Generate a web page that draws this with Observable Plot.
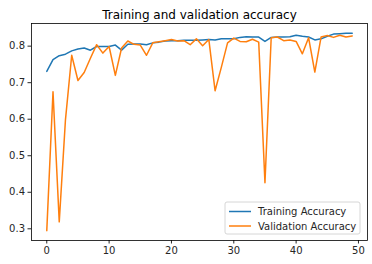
<!DOCTYPE html>
<html>
<head>
<meta charset="utf-8">
<script src="https://cdn.jsdelivr.net/npm/d3@7"></script>
<script src="https://cdn.jsdelivr.net/npm/@observablehq/plot@0.6"></script>
<style>
  html, body { margin: 0; padding: 0; background: #fff; }
  svg { font-family: "DejaVu Sans", sans-serif; }
</style>
</head>
<body>
<div id="chart"></div>
<script>
const epochs = d3.range(50);
const trainingAccuracy = [
  0.731, 0.763, 0.774, 0.778, 0.787, 0.792, 0.795, 0.789, 0.799, 0.799,
  0.799, 0.803, 0.789, 0.805, 0.806, 0.806, 0.804, 0.809, 0.811, 0.814,
  0.815, 0.815, 0.816, 0.816, 0.816, 0.817, 0.818, 0.817, 0.820, 0.820,
  0.820, 0.824, 0.826, 0.825, 0.825, 0.813, 0.824, 0.825, 0.825, 0.826,
  0.830, 0.827, 0.825, 0.817, 0.820, 0.827, 0.833, 0.834, 0.835, 0.835
];
const validationAccuracy = [
  0.295, 0.675, 0.319, 0.599, 0.775, 0.706, 0.728, 0.767, 0.804, 0.781,
  0.799, 0.720, 0.795, 0.814, 0.805, 0.803, 0.775, 0.809, 0.812, 0.815,
  0.818, 0.814, 0.815, 0.804, 0.820, 0.801, 0.818, 0.678, 0.742, 0.809,
  0.822, 0.813, 0.812, 0.819, 0.811, 0.426, 0.823, 0.825, 0.815, 0.817,
  0.813, 0.779, 0.823, 0.729, 0.825, 0.829, 0.824, 0.830, 0.825, 0.828
];
const seriesNames = ["Training Accuracy", "Validation Accuracy"];
const seriesColors = ["#1f77b4", "#ff7f0e"];
const xTicks = [0, 10, 20, 30, 40, 50];
const yTicks = [0.3, 0.4, 0.5, 0.6, 0.7, 0.8];
const titleText = "Training and validation accuracy";

const train = epochs.map((e, i) => ({epoch: e, acc: trainingAccuracy[i]}));
const val = epochs.map((e, i) => ({epoch: e, acc: validationAccuracy[i]}));

const mL = 31, mR = 5, mT = 23, mB = 24, W = 372, H = 264;

const chart = Plot.plot({
  width: W,
  height: H,
  marginLeft: mL,
  marginRight: mR,
  marginTop: mT,
  marginBottom: mB,
  style: {fontFamily: "DejaVu Sans, sans-serif", fontSize: "10px", color: "#262626", background: "#fff"},
  x: {domain: [-2.45, 51.45], ticks: xTicks, tickSize: 3.5, tickPadding: 3, label: null, tickFormat: d3.format("d")},
  y: {domain: [0.268, 0.862], ticks: yTicks, tickSize: 3.5, tickPadding: 3, label: null, tickFormat: d3.format(".1f")},
  marks: [
    Plot.line(train, {x: "epoch", y: "acc", stroke: seriesColors[0], strokeWidth: 1.5}),
    Plot.line(val, {x: "epoch", y: "acc", stroke: seriesColors[1], strokeWidth: 1.5}),
    Plot.frame({stroke: "#000", strokeWidth: 0.8}),
    Plot.text([titleText], {frameAnchor: "top", dy: -13, fontSize: 12, fill: "#000", text: d => d})
  ]
});

document.getElementById("chart").appendChild(chart);

// legend (lower right)
const svg = d3.select(chart);
const lg = svg.append("g").attr("text-anchor", "start");
const boxX = 225, boxY = 202, boxW = 135, boxH = 32;
lg.append("rect").attr("x", boxX).attr("y", boxY).attr("width", boxW).attr("height", boxH)
  .attr("rx", 2).attr("fill", "#fff").attr("fill-opacity", 0.8).attr("stroke", "#ccc").attr("stroke-width", 0.8);
seriesNames.forEach((name, i) => {
  const y = boxY + 9.5 + i * 14.5;
  lg.append("line").attr("x1", boxX + 4).attr("x2", boxX + 26).attr("y1", y).attr("y2", y)
    .attr("stroke", seriesColors[i]).attr("stroke-width", 1.5);
  lg.append("text").attr("x", boxX + 33).attr("y", y).attr("dy", "0.35em")
    .attr("text-anchor", "start")
    .attr("font-size", 10).attr("fill", "#262626").text(name);
});
</script>
</body>
</html>
